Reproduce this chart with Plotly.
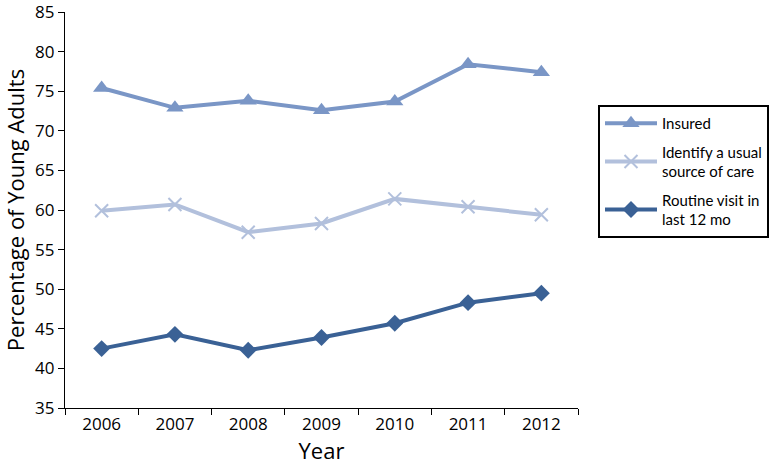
import plotly.graph_objects as go

years = ["2006", "2007", "2008", "2009", "2010", "2011", "2012"]
insured = [75.4, 72.9, 73.8, 72.6, 73.7, 78.4, 77.4]
usual_source = [59.9, 60.7, 57.2, 58.3, 61.4, 60.4, 59.4]
routine_visit = [42.5, 44.3, 42.3, 43.9, 45.7, 48.3, 49.5]
y_ticks = [35, 40, 45, 50, 55, 60, 65, 70, 75, 80, 85]

FONT = "Open Sans, Lato, sans-serif"

fig = go.Figure()
fig.add_trace(go.Scatter(
    x=years, y=insured, name="Insured", mode="lines+markers", legendgroup="g1",
    line=dict(color="#7a96c6", width=4),
    marker=dict(symbol="triangle-up", size=15, color="#7a96c6"),
))
fig.add_trace(go.Scatter(
    x=years, y=usual_source, name="Identify a usual<br>source of care", mode="lines+markers",
    legendgroup="g2",
    line=dict(color="#b2c0dc", width=4),
    marker=dict(symbol="x-thin", size=13, color="#b2c0dc", line=dict(color="#b2c0dc", width=2)),
))
fig.add_trace(go.Scatter(
    x=years, y=routine_visit, name="Routine visit in<br>last 12 mo", mode="lines+markers",
    legendgroup="g3",
    line=dict(color="#3a6195", width=4),
    marker=dict(symbol="diamond", size=13, color="#3a6195"),
))

fig.update_layout(
    width=770, height=470,
    margin=dict(l=65, r=192, t=12, b=62),
    paper_bgcolor="white", plot_bgcolor="white",
    font=dict(family=FONT, color="black", size=17),
    legend=dict(
        xref="container", yref="container",
        x=598 / 770, y=1 - 105 / 470, xanchor="left", yanchor="top",
        bordercolor="black", borderwidth=2,
        font=dict(size=15, family="Lato, Open Sans, sans-serif"),
        traceorder="grouped",
        tracegroupgap=6,
        itemwidth=52,
    ),
    xaxis=dict(
        type="category", range=[-0.5, 6.5], tickson="boundaries",
        ticks="outside", ticklen=6, tickcolor="black",
        showline=True, linecolor="black", linewidth=1.3,
        showgrid=False, tickfont=dict(size=17), automargin=False,
        title=dict(text="Year", font=dict(size=22), standoff=6),
    ),
    yaxis=dict(
        range=[35, 85], tickvals=y_ticks, ticks="outside", ticklen=6, tickcolor="black",
        showline=True, linecolor="black", linewidth=1.3,
        showgrid=False, zeroline=False, tickfont=dict(size=17), automargin=False,
        ticklabeloverflow="allow",
        title=dict(text="Percentage of Young Adults", font=dict(size=22), standoff=4),
    ),
)

fig.write_html(
    "out.html",
    config={"displayModeBar": False},
    post_script="document.body.style.margin='0';document.body.style.padding='0';",
)
